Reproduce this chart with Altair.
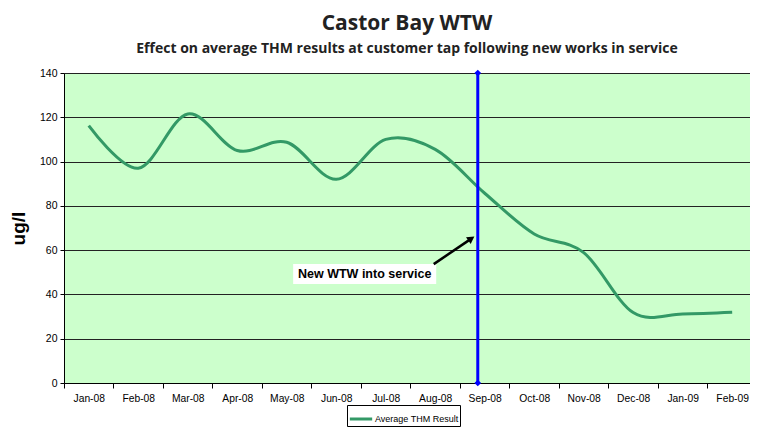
import altair as alt
import pandas as pd

months = ["Jan-08", "Feb-08", "Mar-08", "Apr-08", "May-08", "Jun-08", "Jul-08",
          "Aug-08", "Sep-08", "Oct-08", "Nov-08", "Dec-08", "Jan-09", "Feb-09"]
thm = [116.2, 97.0, 121.5, 105.0, 108.7, 92.0, 110.0,
       105.5, 85.7, 67.3, 58.9, 31.8, 31.2, 31.9]
series_name = "Average THM Result"

service_x = [7.86]           # position of "New WTW into service" marker (month index)
service_y = [0, 140]
note_text = ["New WTW into service"]
note_box_x = [4.13, 7.02]
note_box_y = [44.7, 53.7]
arrow_x = [6.97, 7.73]
arrow_y = [53.7, 65.2]

df = pd.DataFrame({"idx": list(range(len(months))), "month": months,
                   "value": thm, "series": [series_name] * len(months)})

x_scale = alt.Scale(domain=[-0.5, 13.36], nice=False, zero=False)
y_scale = alt.Scale(domain=[0, 140], nice=False)

label_array = "[" + ",".join("'" + m + "'" for m in months) + "]"
x_axis = alt.Axis(
    values=[i - 0.5 for i in range(len(months))],
    labelExpr=label_array + "[round(datum.value + 0.5)]",
    labelOffset=24.75, tickSize=5, tickColor="black", domainColor="black",
    labelPadding=5, labelFont="Liberation Sans", labelFontSize=10.3,
    labelColor="black", grid=False, title=None, labelFlush=False, labelOverlap=False,
)
y_axis = alt.Axis(
    values=list(range(0, 141, 20)), tickSize=4, tickColor="black",
    domainColor="black", labelFont="Liberation Sans", labelFontSize=10.5,
    labelColor="black", labelPadding=3, grid=True, gridColor="#222222",
    gridWidth=1, title="ug/l", titleFont="Liberation Sans", titleFontSize=19,
    titleFontWeight="bold", titleColor="black", titlePadding=11,
)

line = alt.Chart(df).mark_line(interpolate="cardinal", tension=0, strokeWidth=3).encode(
    x=alt.X("idx:Q", scale=x_scale, axis=x_axis),
    y=alt.Y("value:Q", scale=y_scale, axis=y_axis),
    color=alt.Color("series:N", scale=alt.Scale(range=["#339966"]),
                    legend=alt.Legend(
                        title=None, orient="none", legendX=283, legendY=332,
                        strokeColor="black", fillColor="white", padding=1,
                        symbolType="stroke", symbolStrokeWidth=3, symbolSize=500,
                        labelFont="Liberation Sans", labelFontSize=9,
                        labelColor="black", labelOffset=1)),
)

svc = pd.DataFrame({"x": service_x * 2, "y": service_y})
rule = alt.Chart(pd.DataFrame({"x": service_x, "y0": [service_y[0]], "y1": [service_y[1]]})).mark_rule(
    color="#0000FF", strokeWidth=3).encode(
    x=alt.X("x:Q", scale=x_scale), y=alt.Y("y0:Q", scale=y_scale), y2="y1:Q")
diamonds = alt.Chart(svc).mark_point(shape="diamond", filled=True, size=45,
                                     color="#0000FF", opacity=1).encode(
    x=alt.X("x:Q", scale=x_scale), y=alt.Y("y:Q", scale=y_scale))

box = alt.Chart(pd.DataFrame({"x0": [note_box_x[0]], "x1": [note_box_x[1]],
                              "y0": [note_box_y[0]], "y1": [note_box_y[1]]})).mark_rect(
    color="white").encode(
    x=alt.X("x0:Q", scale=x_scale), x2="x1:Q",
    y=alt.Y("y0:Q", scale=y_scale), y2="y1:Q")
text = alt.Chart(pd.DataFrame({"x": [sum(note_box_x) / 2], "y": [sum(note_box_y) / 2],
                               "t": note_text})).mark_text(
    font="Liberation Sans", fontSize=12.5, fontWeight="bold", color="black",
    align="center", baseline="middle").encode(
    x=alt.X("x:Q", scale=x_scale), y=alt.Y("y:Q", scale=y_scale), text="t:N")

arrow_line = alt.Chart(pd.DataFrame({"x": arrow_x, "y": arrow_y, "o": [0, 1]})).mark_line(
    color="black", strokeWidth=2.5).encode(
    x=alt.X("x:Q", scale=x_scale), y=alt.Y("y:Q", scale=y_scale), order="o:Q")
arrow_head = alt.Chart(pd.DataFrame({"x": [arrow_x[1]], "y": [arrow_y[1]]})).mark_point(
    shape="triangle-up", filled=True, size=70, angle=56, color="black", opacity=1).encode(
    x=alt.X("x:Q", scale=x_scale), y=alt.Y("y:Q", scale=y_scale))

chart = alt.layer(box, text, arrow_line, arrow_head, line, rule, diamonds).properties(
    width=686, height=310,
    autosize=alt.AutoSizeParams(type="none"),
    padding={"left": 56, "top": 65, "right": 0, "bottom": 44},
    title=alt.TitleParams(
        text="Castor Bay WTW",
        subtitle="Effect on average THM results at customer tap following new works in service",
        font="Open Sans", fontSize=21, fontWeight="bold", color="#222222",
        subtitleFont="Open Sans", subtitleFontSize=14, subtitleFontWeight="bold",
        subtitleColor="#222222", subtitlePadding=8, anchor="middle", offset=12),
).configure(background="white").configure_view(fill="#CCFFCC", stroke="#808080", strokeWidth=1)

chart.save("out.html", embed_options={"renderer": "svg", "actions": False})
